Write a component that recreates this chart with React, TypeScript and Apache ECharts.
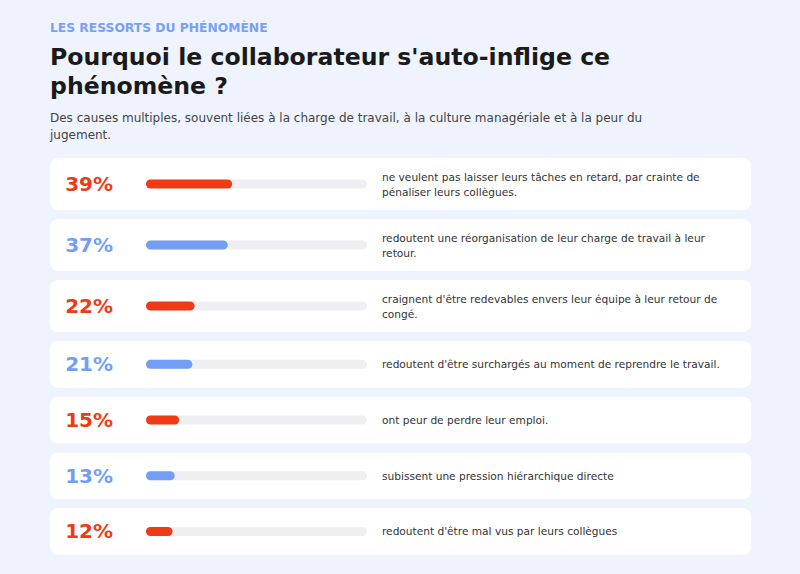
import { useEffect, useRef } from 'react';
import * as echarts from 'echarts';

const kicker = 'LES RESSORTS DU PHÉNOMÈNE';
const heading = "Pourquoi le collaborateur s'auto-inflige ce\nphénomène ?";
const subtitle =
  'Des causes multiples, souvent liées à la charge de travail, à la culture managériale et à la peur du\njugement.';

const percents = [39, 37, 22, 21, 15, 13, 12];
const reasons = [
  'ne veulent pas laisser leurs tâches en retard, par crainte de\npénaliser leurs collègues.',
  'redoutent une réorganisation de leur charge de travail à leur\nretour.',
  "craignent d'être redevables envers leur équipe à leur retour de\ncongé.",
  "redoutent d'être surchargés au moment de reprendre le travail.",
  'ont peur de perdre leur emploi.',
  'subissent une pression hiérarchique directe',
  "redoutent d'être mal vus par leurs collègues",
];

const RED = '#ee3a15';
const BLUE = '#739ef5';
const FONT = "'DejaVu Sans', sans-serif";

export default function App() {
  const chartRef = useRef<HTMLDivElement>(null);

  useEffect(() => {
    if (!chartRef.current) return;
    const chart = echarts.init(chartRef.current, undefined, { renderer: 'svg' });

    // card geometry: two-line cards are a bit taller
    const cardLeft = 50;
    const cardWidth = 701;
    const gap = 9;
    const tops: number[] = [];
    const heights: number[] = [];
    let y = 158;
    reasons.forEach((r) => {
      const h = r.includes('\n') ? 52 : 46.7;
      tops.push(y);
      heights.push(h);
      y += h + gap;
    });

    const grids: any[] = [];
    const xAxes: any[] = [];
    const yAxes: any[] = [];
    const series: any[] = [];

    percents.forEach((p, i) => {
      const color = i % 2 === 0 ? RED : BLUE;
      const center = tops[i] + heights[i] / 2;
      grids.push({ left: 146, width: 221, top: center - 4.5, height: 9 });
      xAxes.push({ type: 'value', gridIndex: i, min: 0, max: 100, show: false });
      yAxes.push({
        type: 'category',
        gridIndex: i,
        position: 'right',
        data: [reasons[i]],
        axisLine: { show: false },
        axisTick: { show: false },
        splitLine: { show: false },
        axisLabel: {
          margin: 15,
          align: 'left',
          fontFamily: FONT,
          fontSize: 10.6,
          lineHeight: 15,
          color: '#333333',
        },
      });
      series.push({
        type: 'bar',
        xAxisIndex: i,
        yAxisIndex: i,
        data: [p],
        barWidth: 9,
        itemStyle: { color, borderRadius: 4.5 },
        showBackground: true,
        backgroundStyle: { color: '#efeff3', borderRadius: 4.5 },
        label: {
          show: true,
          position: 'left',
          distance: 33,
          formatter: '{c}%',
          fontFamily: FONT,
          fontSize: 20,
          fontWeight: 'bold',
          color,
        },
      });
    });

    const cards = tops.map((t, i) => ({
      type: 'rect',
      z: -10,
      shape: { x: cardLeft, y: t, width: cardWidth, height: heights[i], r: 8 },
      style: { fill: '#ffffff' },
    }));

    chart.setOption({
      animation: false,
      backgroundColor: '#eef3fe',
      graphic: [
        ...cards,
        {
          type: 'text',
          left: 50,
          top: 21.5,
          style: {
            text: kicker,
            fill: '#78a0f6',
            fontFamily: FONT,
            fontSize: 12.3,
            fontWeight: 'bold',
          },
        },
        {
          type: 'text',
          left: 50,
          top: 42,
          style: {
            text: heading,
            fill: '#1a1a1a',
            fontFamily: FONT,
            fontSize: 23.6,
            fontWeight: 'bold',
            lineHeight: 29,
          },
        },
        {
          type: 'text',
          left: 50,
          top: 109,
          style: {
            text: subtitle,
            fill: '#444444',
            fontFamily: FONT,
            fontSize: 12,
            lineHeight: 17,
          },
        },
      ],
      grid: grids,
      xAxis: xAxes,
      yAxis: yAxes,
      series,
    });

    return () => {
      chart.dispose();
    };
  }, []);

  return (
    <div
      ref={chartRef}
      style={{ position: 'fixed', left: 0, top: 0, width: 800, height: 574 }}
    />
  );
}
